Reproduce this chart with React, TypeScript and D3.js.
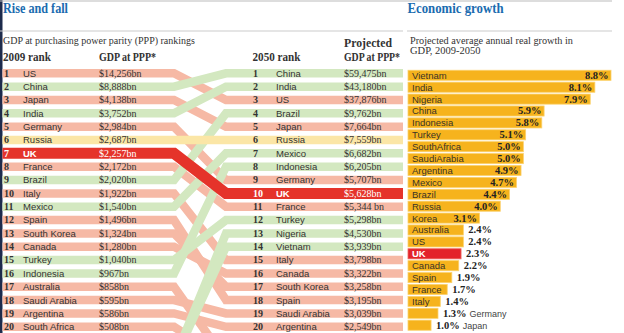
import React from "react";
import * as d3 from "d3";

const rank2009 = ["US","China","Japan","India","Germany","Russia","UK","France","Brazil","Italy","Mexico","Spain","South Korea","Canada","Turkey","Indonesia","Australia","Saudi Arabia","Argentina","South Africa"];
const gdp2009 = ["$14,256bn","$8,888bn","$4,138bn","$3,752bn","$2,984bn","$2,687bn","$2,257bn","$2,172bn","$2,020bn","$1,922bn","$1,540bn","$1,496bn","$1,324bn","$1,280bn","$1,040bn","$967bn","$858bn","$595bn","$586bn","$508bn"];
const rank2050 = ["China","India","US","Brazil","Japan","Russia","Mexico","Indonesia","Germany","UK","France","Turkey","Nigeria","Vietnam","Italy","Canada","South Korea","Spain","Saudi Arabia","Argentina"];
const gdp2050 = ["$59,475bn","$43,180bn","$37,876bn","$9,762bn","$7,664bn","$7,559bn","$6,682bn","$6,205bn","$5,707bn","$5,628bn","$5,344 bn","$5,298bn","$4,530bn","$3,939bn","$3,798bn","$3,322bn","$3,258bn","$3,195bn","$3,039bn","$2,549bn"];

const growthCountries = ["Vietnam","India","Nigeria","China","Indonesia","Turkey","SouthAfrica","SaudiArabia","Argentina","Mexico","Brazil","Russia","Korea","Australia","US","UK","Canada","Spain","France","Italy","Germany","Japan"];
const growthValues = [8.8,8.1,7.9,5.9,5.8,5.1,5.0,5.0,4.9,4.7,4.4,4.0,3.1,2.4,2.4,2.3,2.2,1.9,1.7,1.4,1.3,1.0];

const OFF_RANK = 22.5;
const COL_FALL = "#f6b9a5";
const COL_RISE = "#d3e8c0";
const COL_SAME = "#fbe6a6";
const COL_UK = "#e5332a";
const SERIF = "'Liberation Serif', 'DejaVu Serif', serif";
const SANS = "'Liberation Sans', Arial, sans-serif";
const BLUE = "#1b6cb0";
const TXT = "#333";

export default function App() {
  const W = 624, H = 333;
  const y = d3.scaleLinear().domain([1, 20]).range([73.3, 326.8]);
  const xA = 174, xB = 226, xL = 2.5, xR = 403;

  const all = Array.from(new Set([...rank2009, ...rank2050]));
  const bands = all.map((c) => {
    const r0 = rank2009.indexOf(c) + 1 || OFF_RANK;
    const r1 = rank2050.indexOf(c) + 1 || OFF_RANK;
    let col = r1 < r0 ? COL_RISE : r1 > r0 ? COL_FALL : COL_SAME;
    let order = r1 < r0 ? 1 : r1 > r0 ? 0 : 2;
    if (c === "UK") { col = COL_UK; order = 3; }
    return { c, r0, r1, col, order };
  }).sort((a, b) => a.order - b.order);

  const line = d3.line<[number, number]>();

  const gx = d3.scaleLinear().domain([0, 8.8]).range([408, 611]);
  const gy = d3.scaleBand<string>().domain(growthCountries).range([69.35, 331.15]).paddingInner(0.15).paddingOuter(0.075);

  return (
    <svg width={W} height={H} style={{ position: "fixed", left: 0, top: 0, background: "#fff" }}>
      <rect x={0} y={0} width={W} height={H} fill="#fff" />
      <rect x={0} y={0} width={2.5} height={H} fill="#1d2b4c" />
      <line x1={0} x2={612} y1={1} y2={1} stroke="#bbb" strokeWidth={1.2} />
      <line x1={0} x2={403} y1={31} y2={31} stroke="#ccc" strokeWidth={1.2} />
      <line x1={407} x2={612} y1={31} y2={31} stroke="#ccc" strokeWidth={1.2} />

      <text x={3} y={13} fontFamily={SERIF} fontWeight="bold" fontSize={14} fill={BLUE} textLength={65} lengthAdjust="spacingAndGlyphs">Rise and fall</text>
      <text x={407.5} y={13} fontFamily={SERIF} fontWeight="bold" fontSize={14} fill={BLUE} textLength={96} lengthAdjust="spacingAndGlyphs">Economic growth</text>

      <text x={3} y={44} fontFamily={SERIF} fontSize={10.5} fill={TXT} textLength={192} lengthAdjust="spacingAndGlyphs">GDP at purchasing power parity (PPP) rankings</text>
      <text x={3} y={61} fontFamily={SERIF} fontWeight="bold" fontSize={11.5} fill={TXT} textLength={48} lengthAdjust="spacingAndGlyphs">2009 rank</text>
      <text x={99} y={61} fontFamily={SERIF} fontWeight="bold" fontSize={11.5} fill={TXT} textLength={57} lengthAdjust="spacingAndGlyphs">GDP at PPP*</text>
      <text x={252.5} y={61} fontFamily={SERIF} fontWeight="bold" fontSize={11.5} fill={TXT} textLength={48} lengthAdjust="spacingAndGlyphs">2050 rank</text>
      <text x={344} y={47} fontFamily={SERIF} fontWeight="bold" fontSize={11.5} fill={TXT} textLength={48} lengthAdjust="spacingAndGlyphs">Projected</text>
      <text x={344} y={61} fontFamily={SERIF} fontWeight="bold" fontSize={11.5} fill={TXT} textLength={56} lengthAdjust="spacingAndGlyphs">GDP at PPP*</text>

      <text x={410} y={44} fontFamily={SERIF} fontSize={10.5} fill={TXT} textLength={163} lengthAdjust="spacingAndGlyphs">Projected average annual real growth in</text>
      <text x={410} y={53.5} fontFamily={SERIF} fontSize={10.5} fill={TXT}>GDP, 2009-2050</text>

      <g fill="none" strokeLinejoin="miter">
        {bands.map((b) => (
          <path key={b.c}
            d={line([[xL, y(b.r0)], [xA, y(b.r0)], [xB, y(b.r1)], [xR, y(b.r1)]]) || ""}
            stroke={b.col} strokeWidth={b.c === "UK" ? 11 : 8.5} />
        ))}
      </g>

      {rank2009.map((c, i) => {
        const yy = y(i + 1) + 3.4;
        const fill = c === "UK" ? "#fff" : TXT;
        return (
          <g key={"l" + c}>
            <text x={4} y={yy} fontFamily={SERIF} fontWeight="bold" fontSize={10} fill={fill}>{i + 1}</text>
            <text x={23} y={yy} fontFamily={SANS} fontSize={9.5} fill={fill} fontWeight={c === "UK" ? "bold" : "normal"}>{c}</text>
            <text x={99} y={yy} fontFamily={SERIF} fontSize={10} fill={fill}>{gdp2009[i]}</text>
          </g>
        );
      })}
      {rank2050.map((c, i) => {
        const yy = y(i + 1) + 3.4;
        const fill = c === "UK" ? "#fff" : TXT;
        return (
          <g key={"r" + c}>
            <text x={253} y={yy} fontFamily={SERIF} fontWeight="bold" fontSize={10} fill={fill}>{i + 1}</text>
            <text x={276} y={yy} fontFamily={SANS} fontSize={9.5} fill={fill} fontWeight={c === "UK" ? "bold" : "normal"}>{c}</text>
            <text x={344} y={yy} fontFamily={SERIF} fontSize={10} fill={fill}>{gdp2050[i]}</text>
          </g>
        );
      })}

      {growthCountries.map((c, i) => {
        const v = growthValues[i];
        const by = gy(c)!;
        const bh = gy.bandwidth();
        const x1 = gx(v);
        const inside = v >= 3;
        const isUK = c === "UK";
        const noName = c === "Germany" || c === "Japan";
        const ty = by + bh / 2 + 3.4;
        return (
          <g key={"g" + c}>
            <rect x={gx(0)} y={by} width={x1 - gx(0)} height={bh}
              fill={isUK ? "#e3222a" : "#f6b31d"} stroke={isUK ? "#ee6a5f" : "#fbd26e"} strokeWidth={0.8} />
            {!noName && (
              <text x={412} y={ty} fontFamily={SANS} fontSize={9.5} fill={isUK ? "#fff" : "#3a3326"} fontWeight={isUK ? "bold" : "normal"}>{c}</text>
            )}
            {inside ? (
              <text x={x1 - 2.5} y={ty} textAnchor="end" fontFamily={SERIF} fontWeight="bold" fontSize={10.5} fill="#222">{v.toFixed(1)}%</text>
            ) : (
              <text x={x1 + 5} y={ty} fontFamily={SERIF} fontWeight="bold" fontSize={10.5} fill="#222">
                {v.toFixed(1)}%
                {noName && <tspan fontFamily={SANS} fontWeight="normal" fontSize={9} fill="#444" dx={3}>{c}</tspan>}
              </text>
            )}
          </g>
        );
      })}
    </svg>
  );
}
